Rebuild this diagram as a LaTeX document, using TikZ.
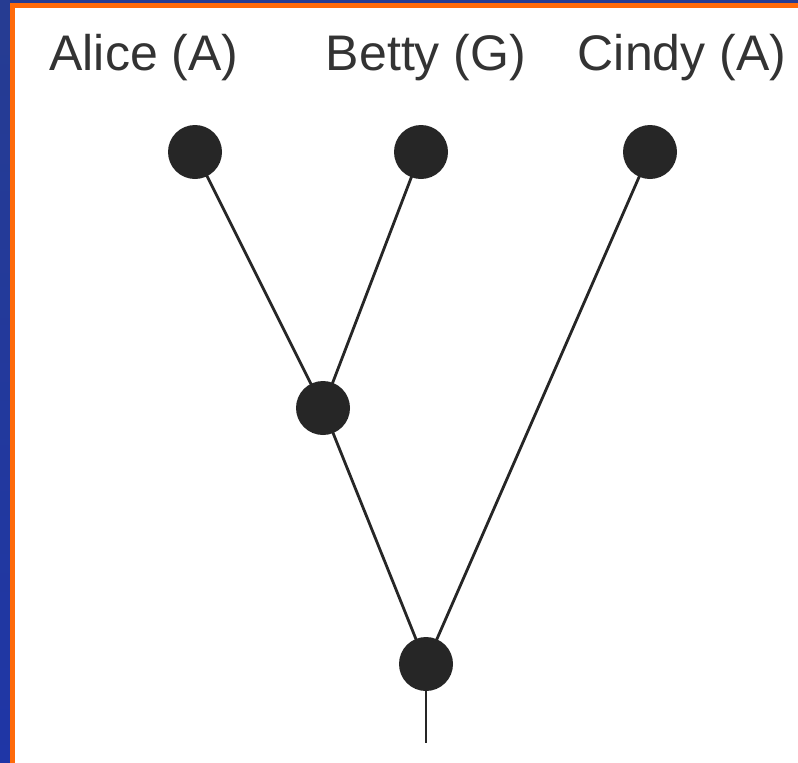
\documentclass[tikz,border=0pt]{standalone}
\usepackage{fontspec}
\setmainfont{Liberation Sans}
\usetikzlibrary{backgrounds}
\definecolor{frameblue}{HTML}{263C92}
\definecolor{frameblueB}{HTML}{1F36A6}
\definecolor{frameorange}{HTML}{FF6A0A}
\definecolor{dotgray}{HTML}{262626}
\begin{document}
\begin{tikzpicture}[x=1pt,y=-1pt,
  dot/.style={circle,fill=dotgray,minimum size=54pt,inner sep=0pt},
  edge/.style={draw=black!85,line width=2.8pt},
  lab/.style={font=\fontsize{50}{56}\selectfont,text=black!80,anchor=base,inner sep=0pt}]
\useasboundingbox (0,0) rectangle (798,763);
% labels
\node[lab] (la) at (144,70) {Alice (A)};
\node[lab] (lb) at (426,70) {Betty (G)};
\node[lab] (lc) at (682,70) {Cindy (A)};
% nodes
\coordinate (root) at (426,743);
\node[dot] (a) at (195,152) {};
\node[dot] (b) at (421,152) {};
\node[dot] (c) at (650,152) {};
\node[dot] (m) at (323,408) {};
\node[dot] (r) at (426,664) {};
\begin{scope}[on background layer]
% frame
\shade[top color=frameblue,bottom color=frameblueB] (0,0) rectangle (10,763);
\fill[frameblue] (0,0) rectangle (798,3);
\fill[frameorange] (10,3) rectangle (15,763);
\fill[frameorange] (10,3) rectangle (798,8);
\fill[white] (15,8) rectangle (798,763);
% connectors
\draw[edge] (a.center) -- (m.center);
\draw[edge] (b.center) -- (m.center);
\draw[edge] (m.center) -- (r.center);
\draw[edge] (c.center) -- (r.center);
\draw[edge] (r.center) -- (root);
\end{scope}
\end{tikzpicture}
\end{document}
